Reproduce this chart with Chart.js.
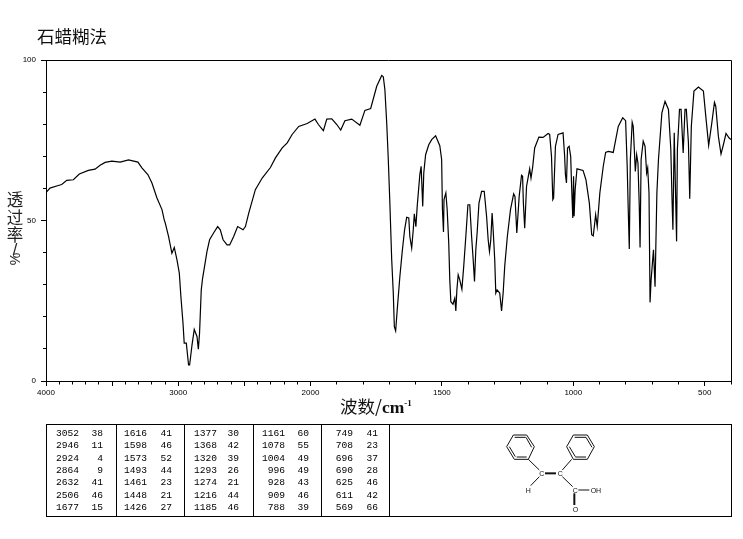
<!DOCTYPE html>
<html><head><meta charset="utf-8">
<script src="https://cdn.jsdelivr.net/npm/chart.js@4"></script>
<style>
html,body{margin:0;padding:0;background:#fff;width:743px;height:539px;overflow:hidden}
#wrap{position:relative;width:743px;height:539px}
canvas{position:absolute;left:0;top:0}
.t{position:absolute;color:#111;white-space:nowrap;font-family:"Noto Sans CJK SC"}
.yc{position:absolute;left:6px;width:18px;height:18px;line-height:18px;text-align:center;font-size:16.5px;color:#222;font-family:"Noto Sans CJK SC"}
#peaks{position:absolute;left:46px;top:424px;width:686px;height:93px;border:1px solid #000;box-sizing:border-box}
.col{position:absolute;top:0;height:91px;border-right:1px solid #000}
.cell{position:absolute;font:9.6px "Liberation Mono";color:#000;line-height:10px;text-align:right}
svg{position:absolute;left:480px;top:420px}
</style></head><body><div id="wrap">
<canvas id="c" width="743" height="539"></canvas>
<div class="t" style="left:37px;top:24px;font-size:17.5px;line-height:24px">石蜡糊法</div>
<div class="yc" style="top:190px">透</div>
<div class="yc" style="top:208px">过</div>
<div class="yc" style="top:225px">率</div>
<div class="yc" style="top:240px;font-family:'Liberation Sans'">/</div>
<div class="yc" style="top:250px;font-family:'Liberation Sans';font-size:14px;transform:rotate(-90deg)">%</div>
<div class="t" style="left:340px;top:394px;font-size:17.5px;line-height:24px">波数/<span style="font-family:'Liberation Serif';font-weight:bold">cm<sup style="font-size:9px;line-height:0">-1</sup></span></div>
<div id="peaks"></div>
<svg width="160" height="100" viewBox="0 0 480 300" font-family="Liberation Sans" font-size="21" fill="#111" stroke="none">
<g fill="none" stroke="#111" stroke-width="3">
<polygon points="100,45 140,45 163,80 145,118 103,118 80,80"/>
<polygon points="280,45 322,45 343,80 322,118 280,118 260,80"/>
<path d="M104,52 H137 M88,80 L106,110 M110,111 H140 M155,82 L138,52"/>
<path d="M284,52 H318 M268,80 L286,110 M286,111 H318 M336,82 L318,52"/>
<path d="M145,118 L178,150 M275,118 L247,150 M178,170 L152,197 M247,170 L278,200 M295,210 H328"/>
<path d="M195,160 H228" stroke-width="6"/><path d="M283,220 V255" stroke-width="6"/>
</g>
<text x="178" y="168">C</text><text x="233" y="168">C</text><text x="137" y="218">H</text><text x="278" y="218">C</text><text x="332" y="218">OH</text><text x="278" y="275">O</text>
</svg>
</div>
<script>
const wavenumbers=[
3995,3970,3907,3881,3843,3793,3748,3680,3629,3591,
3553,3502,3439,3376,3305,3275,3230,3199,3161,3123,
3106,3098,3073,3048,3030,3010,2992,2980,2964,2955,
2939,2922,2914,2896,2879,2858,2848,2839,2826,2816,
2801,2783,2763,2733,2702,2682,2661,2631,2611,2581,
2551,2510,2492,2467,2417,2364,2303,2265,2214,2176,
2139,2089,2025,1983,1970,1951,1938,1919,1900,1885,
1869,1843,1812,1793,1771,1748,1729,1723,1717,1710,
1704,1698,1691,1685,1681,1676,1670,1660,1651,1642,
1634,1626,1622,1615,1609,1605,1599,1594,1584,1579,
1573,1569,1562,1550,1539,1524,1508,1501,1498,1494,
1492,1485,1480,1474,1470,1466,1458,1451,1447,1443,
1438,1432,1424,1417,1409,1401,1394,1387,1381,1376,
1371,1366,1359,1349,1339,1330,1324,1319,1314,1309,
1305,1299,1295,1290,1280,1273,1267,1261,1251,1239,
1227,1222,1215,1206,1197,1193,1190,1185,1178,1171,
1166,1161,1155,1147,1131,1115,1096,1090,1083,1078,
1075,1068,1058,1039,1033,1030,1026,1022,1016,1010,
1006,1002,999,997,993,986,963,952,939,930,
924,915,909,899,886,877,867,848,829,812,
801,795,791,787,783,776,772,764,759,754,
749,746,742,734,727,721,717,712,708,704,
695,689,682,676,663,651,638,629,624,621,
616,607,604,596,590,582,575,570,562,557,
551,541,524,505,496,485,473,463,458,448,
438,429,419,407,400];
const transmittance=[
58.9,60.1,60.9,61.2,62.5,62.7,64.5,65.6,66,67.2,
68.1,68.5,68.2,68.9,68.2,66.4,64.3,61.7,57,53.4,
50.2,49.2,45,39.8,41.6,37.8,33.6,26.3,18,11.8,
11.8,5,5,11.2,16.1,13.8,9.9,14.9,28.4,32,
35.7,40.3,44,46.1,48.1,47.1,44,42.4,42.4,45,
48.1,47.1,48.1,52.3,59.6,63.3,66.5,69.5,72.6,74.2,
76.8,79.3,80.2,81.6,79.9,78,81.6,81.7,79.9,78.2,
81.1,81.6,79.7,84.3,84.9,91.8,95.2,94.8,90.8,80.4,
69,55.4,37.8,27.4,16.9,15.6,22.2,32.5,40.3,47.1,
51,50.8,45,41.4,47.1,52.1,48.1,54.4,64.3,66.9,
54.4,64.8,70.5,73.6,75.2,76.4,73.3,69,53.4,46.4,
56.5,58.6,53.4,43,31.5,24.7,23.9,25.8,21.8,28.4,
33.1,31.5,28.6,35.7,45,54.9,54.9,45,37.8,31,
40.9,46.1,55.4,59.1,59.1,51.3,44,40.3,44,52.3,
47.1,37.8,27.4,28.4,27.4,21.8,27.4,35.7,45,53.4,
58.3,57.5,46.1,57.5,64.1,63.8,55.4,47.6,60.6,63.8,
66.1,63.2,66.4,72.6,76,75.9,77.1,76.8,70,56.5,
57,73.1,76.8,77.3,70,64.3,61.7,72.6,73.1,70,
59.6,50.8,63.8,51.3,59.6,66.1,65.6,62.7,55.4,45.6,
45.2,51.8,48.1,58.6,66.9,71.2,71.5,71.2,79.3,82,
81.1,66.9,53.4,41.1,69,80.6,79.3,65.3,70.5,67.9,
54.4,41.6,69,74.7,73.1,64.8,66.4,58.6,24.5,31.5,
40.9,29.4,58.6,69,83.5,87.1,84.6,72.1,55.4,47.1,
77.3,43.5,72.1,84.6,84.6,71,84.6,84.6,74.2,56.8,
79.3,90.3,91.6,90.3,82.5,73.4,80.4,86.8,85.6,76.2,
70.7,73.6,77.1,75.7,75.2];
const xLabelled=[4000,3000,2000,1500,1000,500];
const yLabelled=[0,50,100];
const peakCm=[
[3052,2946,2924,2864,2632,2506,1677],
[1616,1598,1573,1493,1461,1448,1426],
[1377,1368,1320,1293,1274,1216,1185],
[1161,1078,1004,996,928,909,788],
[749,708,696,690,625,611,569]];
const peakPct=[
[38,11,4,9,41,46,15],
[41,46,52,44,23,21,27],
[30,42,39,26,21,44,46],
[60,55,49,49,43,46,39],
[41,23,37,28,46,42,66]];

const {Chart}=window;
const BREAK_FRACTION=264.5/685;
function shorten(scale,items,step,len){
  items.forEach((it,i)=>{
    const t=scale.ticks[i]; if(!t||t.value%step===0)return;
    if(scale.axis==='x') it.ty2=it.ty1+len; else it.tx1=it.tx2-len;
  });
  return items;
}
class IrXScale extends Chart.LinearScale{
  static id='irX';
  static defaults=Chart.LinearScale.defaults;
  getPixelForValue(v){
    const f=v>=2000?(4000-v)/2000*BREAK_FRACTION:BREAK_FRACTION+(2000-v)/1600*(1-BREAK_FRACTION);
    return this.getPixelForDecimal(f);
  }
  getValueForPixel(p){
    const f=this.getDecimalForPixel(p);
    return f<=BREAK_FRACTION?4000-f/BREAK_FRACTION*2000:2000-(f-BREAK_FRACTION)/(1-BREAK_FRACTION)*1600;
  }
  _computeGridLineItems(a){return shorten(this,super._computeGridLineItems(a),500,2.5);}
}
class IrYScale extends Chart.LinearScale{
  static id='irY';
  static defaults=Chart.LinearScale.defaults;
  _computeGridLineItems(a){return shorten(this,super._computeGridLineItems(a),50,3);}
}
Chart.register(IrXScale,IrYScale);
const tickFont={family:'Liberation Sans',size:8};
new Chart(document.getElementById('c'),{
  type:'line',
  data:{datasets:[{
    data:wavenumbers.map((w,i)=>({x:w,y:transmittance[i]})),
    borderColor:'#000',borderWidth:1.2,pointRadius:0,tension:0,fill:false
  }]},
  plugins:[{id:'frame',afterDatasetsDraw(ch){
    const a=ch.chartArea,g=ch.ctx;g.save();g.strokeStyle='#000';g.lineWidth=1;g.beginPath();
    g.moveTo(a.left,a.top+.5);g.lineTo(a.right+.5,a.top+.5);g.lineTo(a.right+.5,a.bottom);g.stroke();g.restore();
  }}],
  options:{
    responsive:false,animation:false,devicePixelRatio:1,
    layout:{padding:{left:0,top:60,right:12,bottom:136}},
    plugins:{legend:{display:false},tooltip:{enabled:false}},
    scales:{
      x:{type:'irX',min:400,max:4000,
        afterFit(s){s.height=22;},
        afterBuildTicks(s){const r=[];for(let v=4000;v>=400;v-=100)r.push({value:v});s.ticks=r;},
        grid:{drawOnChartArea:false,tickLength:5,tickColor:'#000',tickWidth:1},
        border:{color:'#000',width:1},
        ticks:{autoSkip:false,maxRotation:0,minRotation:0,padding:2,color:'#000',font:tickFont,
          callback:v=>xLabelled.includes(v)?String(v):''}},
      y:{type:'irY',min:0,max:100,
        afterFit(s){s.width=46;},
        grid:{drawOnChartArea:false,tickLength:5,tickColor:'#000',tickWidth:1},
        border:{color:'#000',width:1},
        ticks:{stepSize:10,autoSkip:false,padding:5,color:'#000',font:tickFont,
          callback:v=>yLabelled.includes(v)?String(v):''}}
    }
  }
});
// peak table
const box=document.getElementById('peaks');
const dividers=[69,137,206,274,342];
const rowY=[4,16,29,41,53,66,78];
const cmRight=[32,100,170,238,306],pctRight=[56,125,192,262,331];
dividers.forEach(d=>{const e=document.createElement('div');e.className='col';e.style.left='0';e.style.width=d+'px';box.appendChild(e);});
peakCm.forEach((col,c)=>col.forEach((v,r)=>{
  [[v,cmRight[c]],[peakPct[c][r],pctRight[c]]].forEach(([txt,right])=>{
    const e=document.createElement('div');e.className='cell';e.textContent=txt;
    e.style.left=(right-30)+'px';e.style.width='30px';e.style.top=rowY[r]+'px';box.appendChild(e);
  });
}));
</script></body></html>
